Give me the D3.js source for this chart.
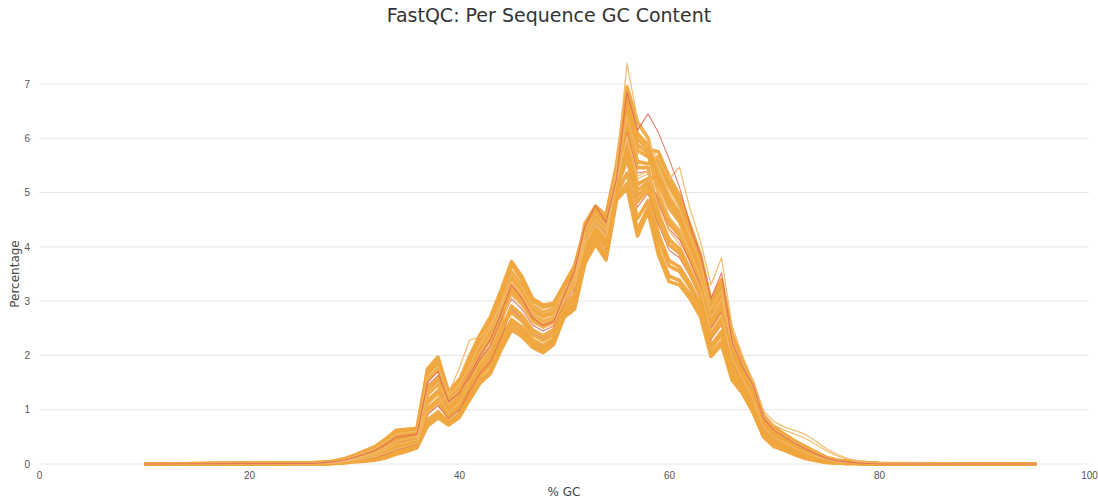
<!DOCTYPE html>
<html>
<head>
<meta charset="utf-8">
<script src="https://cdn.jsdelivr.net/npm/d3@7"></script>
<style>
  body { margin: 0; background: #fff; }
  svg { display: block; font-family: "DejaVu Sans", sans-serif; }
</style>
</head>
<body>
<svg id="chart" width="1098" height="499"></svg>
<script>
// %GC bins sampled for every library (values are % of reads)
const gcBins = [10,26,27,28,29,30,31,32,33,34,35,36,37,38,39,40,41,42,43,44,45,46,47,48,49,50,
  51,52,53,54,55,56,57,58,59,60,61,62,63,64,65,66,67,68,69,70,71,72,73,74,75,76,77,78,79,80,95];

const xTicks = [0, 20, 40, 60, 80, 100];
const yTicks = [0, 1, 2, 3, 4, 5, 6, 7];

const s01 = [0,0.02,0.03,0.05,0.09,0.15,0.23,0.31,0.44,0.60,0.62,0.64,1.65,1.86,1.27,1.48,1.86,2.25,2.55,3.04,3.67,3.40,3.01,2.89,2.92,3.27,3.61,4.36,4.68,4.50,5.44,6.76,6.09,5.87,5.37,4.91,4.62,4.13,3.62,2.80,3.16,2.27,1.81,1.41,0.84,0.63,0.51,0.38,0.29,0.20,0.11,0.06,0.04,0.03,0.02,0.01,0];
const s02 = [0,0.02,0.03,0.04,0.08,0.14,0.21,0.28,0.41,0.55,0.58,0.61,1.75,1.97,1.33,1.55,1.74,2.11,2.40,2.87,3.54,3.29,2.92,2.80,2.85,3.21,3.53,4.25,4.58,4.38,5.34,6.48,5.78,5.66,5.56,5.11,4.79,4.27,3.74,2.90,3.28,2.36,1.87,1.46,0.88,0.66,0.54,0.41,0.31,0.21,0.12,0.07,0.05,0.03,0.02,0.01,0];
const s03 = [0,0.02,0.02,0.04,0.07,0.13,0.19,0.26,0.37,0.51,0.54,0.57,1.54,1.75,1.21,1.41,1.94,2.34,2.66,3.15,3.42,3.18,2.83,2.71,2.77,3.15,3.45,4.43,4.75,4.58,5.50,6.95,6.30,6.00,5.18,4.72,4.46,4.00,3.51,2.69,3.04,2.15,1.72,1.33,0.78,0.57,0.46,0.35,0.25,0.17,0.09,0.05,0.04,0.02,0.01,0.01,0];
const s04 = [0,0.01,0.02,0.04,0.07,0.12,0.18,0.25,0.36,0.49,0.52,0.55,1.38,1.58,1.12,1.31,1.66,2.02,2.29,2.76,3.29,3.07,2.74,2.62,2.69,3.09,3.37,4.17,4.51,4.29,5.28,6.30,5.57,5.53,5.66,5.20,4.87,4.33,3.79,2.95,3.34,2.23,1.78,1.38,0.82,0.61,0.49,0.37,0.28,0.19,0.10,0.06,0.04,0.03,0.02,0.01,0];
const s05 = [0,0.01,0.02,0.03,0.06,0.11,0.16,0.22,0.32,0.44,0.48,0.52,1.28,1.47,1.06,1.24,1.78,2.16,2.45,2.93,3.16,2.96,2.65,2.53,2.62,3.03,3.29,4.28,4.61,4.42,5.37,6.58,5.88,5.73,4.99,4.52,4.29,3.86,3.39,2.59,2.92,2.06,1.66,1.27,0.74,0.54,0.43,0.32,0.23,0.16,0.08,0.05,0.03,0.02,0.01,0.00,0];
const s06 = [0,0.01,0.01,0.03,0.06,0.10,0.15,0.20,0.29,0.40,0.44,0.48,1.44,1.63,1.15,1.34,1.58,1.94,2.19,2.65,3.04,2.85,2.56,2.45,2.54,2.97,3.21,4.10,4.44,4.21,5.21,6.11,5.36,5.39,4.80,4.33,4.13,3.73,3.28,2.49,2.80,2.10,1.69,1.30,0.76,0.55,0.45,0.33,0.24,0.16,0.09,0.05,0.04,0.02,0.01,0.01,0];
const s07 = [0,0.01,0.01,0.03,0.05,0.09,0.14,0.18,0.27,0.38,0.41,0.46,1.12,1.30,0.96,1.13,1.54,1.89,2.14,2.60,3.23,3.01,2.69,2.58,2.66,3.06,3.33,4.03,4.37,4.13,5.15,5.92,5.15,5.26,5.28,4.82,4.54,4.06,3.57,2.75,3.10,1.98,1.60,1.22,0.70,0.50,0.40,0.30,0.21,0.14,0.08,0.04,0.03,0.02,0.01,0.00,0];
const s08 = [0,0.01,0.01,0.02,0.04,0.08,0.12,0.16,0.23,0.33,0.37,0.43,1.17,1.35,0.99,1.17,1.42,1.76,1.98,2.43,2.91,2.74,2.47,2.36,2.47,2.91,3.13,4.14,4.47,4.25,5.24,6.20,5.46,5.46,4.61,4.14,3.96,3.59,3.17,2.39,2.68,1.89,1.54,1.17,0.66,0.46,0.37,0.27,0.19,0.12,0.07,0.04,0.03,0.02,0.01,0.00,0];
const s09 = [0,0.01,0.01,0.02,0.04,0.08,0.11,0.15,0.22,0.31,0.35,0.41,1.02,1.19,0.90,1.06,1.50,1.85,2.09,2.54,2.79,2.63,2.38,2.27,2.39,2.85,3.05,3.96,4.30,4.05,5.08,5.73,4.94,5.12,4.90,4.43,4.21,3.79,3.34,2.54,2.86,1.81,1.48,1.11,0.62,0.43,0.34,0.25,0.17,0.11,0.06,0.03,0.02,0.01,0.01,0.00,0];
const s10 = [0,0.00,0.01,0.02,0.03,0.06,0.09,0.12,0.18,0.27,0.31,0.37,0.91,1.07,0.84,0.99,1.34,1.67,1.88,2.32,2.85,2.68,2.42,2.31,2.43,2.88,3.09,3.88,4.23,3.97,5.02,5.55,4.73,4.99,4.42,3.94,3.80,3.46,3.05,2.29,2.56,1.85,1.51,1.14,0.64,0.45,0.36,0.26,0.18,0.12,0.06,0.04,0.02,0.01,0.01,0.00,0];
const s11 = [0,0.00,0.00,0.02,0.03,0.06,0.08,0.11,0.16,0.25,0.29,0.35,0.96,1.13,0.87,1.03,1.30,1.62,1.83,2.27,2.66,2.52,2.29,2.18,2.31,2.79,2.97,3.99,4.33,4.09,5.12,5.83,5.04,5.19,4.23,3.75,3.63,3.32,2.94,2.18,2.44,1.72,1.42,1.06,0.58,0.39,0.31,0.22,0.14,0.09,0.05,0.03,0.02,0.01,0.00,0.00,0];
const s12 = [0,0.00,0.00,0.01,0.03,0.05,0.07,0.10,0.15,0.22,0.27,0.34,0.81,0.96,0.78,0.92,1.38,1.71,1.93,2.38,2.60,2.46,2.24,2.14,2.28,2.76,2.93,3.81,4.16,3.88,4.96,5.36,4.52,4.85,4.14,3.65,3.55,3.25,2.88,2.13,2.38,1.64,1.36,1.00,0.54,0.36,0.28,0.20,0.12,0.08,0.04,0.02,0.01,0.01,0.00,0.00,0];
const s13 = [0,0.00,0.00,0.01,0.02,0.05,0.06,0.08,0.13,0.20,0.25,0.32,0.75,0.91,0.75,0.89,1.22,1.53,1.72,2.16,2.53,2.41,2.20,2.09,2.24,2.73,2.89,3.74,4.09,3.80,4.89,5.17,4.31,4.72,3.95,3.46,3.38,3.12,2.77,2.03,2.26,1.59,1.33,0.98,0.52,0.34,0.27,0.18,0.11,0.07,0.03,0.02,0.01,0.01,0.00,0.00,0];
const s14 = [0,0.00,0.00,0.01,0.02,0.04,0.05,0.07,0.11,0.18,0.23,0.30,0.70,0.85,0.72,0.85,1.18,1.49,1.67,2.10,2.47,2.35,2.15,2.05,2.20,2.70,2.85,3.70,4.05,3.76,4.86,5.08,4.20,4.65,3.85,3.36,3.30,3.05,2.71,1.98,2.20,1.55,1.30,0.95,0.50,0.32,0.25,0.17,0.10,0.06,0.03,0.02,0.01,0.01,0.00,0.00,0];
const s15 = [0,0.02,0.03,0.05,0.09,0.16,0.24,0.32,0.46,0.62,0.64,0.66,1.70,1.91,1.30,1.52,1.98,2.38,2.71,3.20,3.73,3.45,3.05,2.93,2.96,3.30,3.65,4.32,4.65,4.46,5.40,6.67,5.99,5.80,5.75,5.30,4.95,4.40,3.85,3.00,3.40,2.40,1.90,1.49,0.90,0.68,0.55,0.42,0.32,0.22,0.12,0.07,0.05,0.03,0.02,0.01,0];
const s16 = [0,0.01,0.02,0.03,0.06,0.11,0.15,0.21,0.30,0.42,0.46,0.50,1.33,1.52,1.09,1.27,1.70,2.07,2.35,2.82,3.48,3.23,2.87,2.75,2.81,3.18,3.49,3.92,4.26,4.01,5.05,5.64,4.83,5.06,4.52,4.04,3.88,3.52,3.11,2.34,2.62,1.93,1.57,1.19,0.68,0.48,0.39,0.28,0.20,0.13,0.07,0.04,0.03,0.02,0.01,0.00,0];
const s17 = [0,0.00,0.01,0.02,0.04,0.07,0.10,0.14,0.20,0.28,0.32,0.38,0.95,1.10,1.30,1.75,2.28,2.34,2.55,2.95,3.30,3.05,2.72,2.60,2.68,3.05,3.35,4.10,4.45,4.20,5.20,6.05,5.30,5.40,4.75,4.30,4.05,3.65,3.22,2.45,2.75,1.95,1.58,1.20,0.69,0.49,0.40,0.29,0.21,0.14,0.08,0.04,0.03,0.02,0.01,0.00,0];
const s18 = [0,0.01,0.01,0.02,0.05,0.09,0.13,0.18,0.26,0.36,0.40,0.45,1.10,1.28,0.95,1.12,1.50,1.86,2.12,2.58,3.10,2.90,2.60,2.50,2.58,3.00,3.25,4.05,4.40,4.18,5.18,6.00,5.25,5.35,5.00,4.55,4.30,3.90,3.45,2.70,3.05,2.20,1.85,1.45,0.88,0.72,0.62,0.55,0.47,0.36,0.24,0.15,0.09,0.05,0.03,0.01,0];
const s19 = [0,0.01,0.02,0.03,0.06,0.10,0.15,0.21,0.30,0.42,0.46,0.50,1.30,1.50,1.10,1.30,1.68,2.05,2.36,2.85,3.35,3.12,2.78,2.66,2.72,3.12,3.42,4.20,4.52,4.30,5.30,6.40,5.70,5.90,5.62,5.25,5.47,4.70,4.10,3.30,3.80,2.55,2.00,1.52,0.98,0.78,0.68,0.62,0.54,0.42,0.28,0.18,0.10,0.06,0.03,0.02,0];
const s20 = [0,0.02,0.03,0.04,0.08,0.14,0.21,0.28,0.41,0.55,0.58,0.61,1.60,1.80,1.25,1.45,1.80,2.20,2.50,2.95,3.50,3.25,2.90,2.78,2.84,3.20,3.50,4.30,4.62,4.40,5.45,7.38,6.35,5.95,5.45,5.00,4.70,4.20,3.70,2.85,3.20,2.30,1.84,1.42,0.86,0.64,0.52,0.40,0.30,0.21,0.11,0.06,0.04,0.03,0.02,0.01,0];
const s21 = [0,0.01,0.02,0.04,0.07,0.12,0.18,0.25,0.36,0.49,0.52,0.55,1.50,1.70,1.15,1.30,1.65,2.00,2.30,2.78,3.30,3.05,2.70,2.55,2.62,3.10,3.55,4.38,4.76,4.45,5.25,6.85,6.15,6.45,6.10,5.62,5.10,4.40,3.85,3.05,3.52,2.25,1.80,1.45,0.85,0.62,0.50,0.38,0.28,0.19,0.10,0.06,0.04,0.02,0.01,0.00,0];

// draw order, bottom to top, with the QC status of each library
const seriesValues = [s14, s13, s12, s11, s10, s09, s08, s07, s06, s05, s04, s03, s02, s01, s15, s16, s17, s18, s19, s20, s21];
const seriesStatus = ["warn","warn","warn","warn","fail","warn","warn","warn","fail","warn","warn","warn","warn","warn","warn","warn","light","light","light","light","fail"];

const statusColour = { warn: "#efa63e", fail: "#e06a58", light: "#f2b866" };
const statusWidth = { warn: 3.6, fail: 1.1, light: 1.3 };

const svg = d3.select("#chart");
const W = 1098, H = 499;

const x = d3.scaleLinear().domain([0, 100]).range([39, 1089]);
const y = d3.scaleLinear().domain([0, 7]).range([464, 84]);

// horizontal grid
svg.append("g")
  .selectAll("line")
  .data(yTicks)
  .join("line")
  .attr("x1", x(0)).attr("x2", x(100))
  .attr("y1", d => y(d)).attr("y2", d => y(d))
  .attr("stroke", "#e6e6e6")
  .attr("stroke-width", 1);

// y axis labels
const yAxis = svg.append("g")
  .attr("transform", `translate(${x(0)},0)`)
  .call(d3.axisLeft(y).tickValues(yTicks).tickSize(0).tickPadding(9).tickFormat(d3.format("d")));
yAxis.select(".domain").remove();
yAxis.selectAll("text").attr("fill", "#555").style("font-size", "10px");

// x axis labels
const xAxis = svg.append("g")
  .attr("transform", `translate(0,${y(0)})`)
  .call(d3.axisBottom(x).tickValues(xTicks).tickSize(0).tickPadding(8).tickFormat(d3.format("d")));
xAxis.select(".domain").remove();
xAxis.selectAll("text").attr("fill", "#555").style("font-size", "10px");

// one line per library
const line = d3.line()
  .x((d, i) => x(gcBins[i]))
  .y(d => y(d));

svg.append("g")
  .selectAll("path")
  .data(seriesValues)
  .join("path")
  .attr("d", d => line(d))
  .attr("fill", "none")
  .attr("stroke", (d, i) => statusColour[seriesStatus[i]])
  .attr("stroke-width", (d, i) => statusWidth[seriesStatus[i]])
  .attr("stroke-linejoin", "round")
  .attr("stroke-opacity", (d, i) => seriesStatus[i] === "warn" ? 0.95 : 0.9);

// titles
svg.append("text")
  .attr("x", W / 2).attr("y", 22)
  .attr("text-anchor", "middle")
  .attr("fill", "#333")
  .style("font-size", "19px")
  .text("FastQC: Per Sequence GC Content");

svg.append("text")
  .attr("x", (x(0) + x(100)) / 2).attr("y", 496)
  .attr("text-anchor", "middle")
  .attr("fill", "#444")
  .style("font-size", "12px")
  .text("% GC");

svg.append("text")
  .attr("transform", `translate(19,${(y(0) + y(7)) / 2}) rotate(-90)`)
  .attr("text-anchor", "middle")
  .attr("fill", "#444")
  .style("font-size", "12px")
  .text("Percentage");
</script>
</body>
</html>
